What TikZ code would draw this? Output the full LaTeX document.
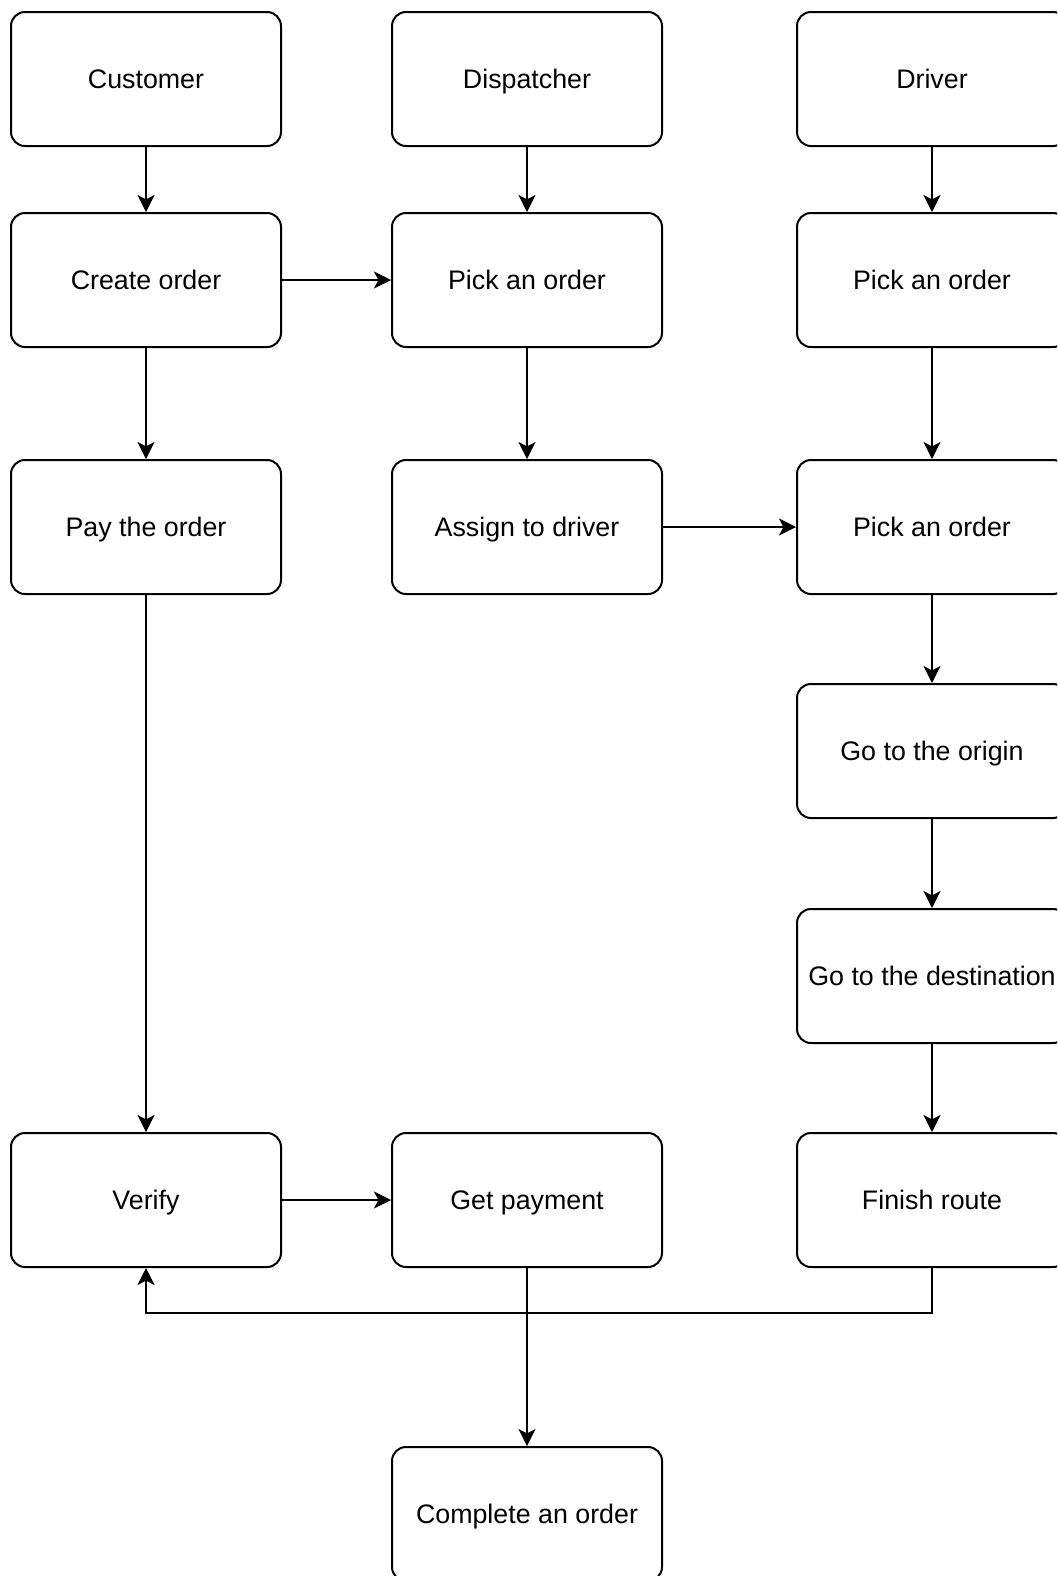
\documentclass[tikz,border=0pt]{standalone}
\usepackage{fontspec}
\setmainfont{Liberation Sans}
\usetikzlibrary{arrows.meta}

\begin{document}
\begin{tikzpicture}[x=0.5pt, y=-0.5pt,
        actbox/.style={draw, line width=1pt, rounded corners=7pt,
            minimum width=135pt, minimum height=67pt, inner sep=1pt,
            text height=9.6pt, text depth=0pt,
            font=\fontsize{13.4pt}{16pt}\selectfont},
        flow/.style={line width=1pt, -{Stealth[length=8.5pt, width=8.5pt, inset=2.2pt]}}]
        \path[use as bounding box, clip] (0,0) rectangle (1057,1576);

        % hlavicky
        \node[actbox] (customer) at (146,79) {Customer};
        \node[actbox] (dispatcher) at (527,79) {Dispatcher};
        \node[actbox] (driver) at (932,79) {Driver};

        % kroky
        \node[actbox] (create) at (146,280) {Create order};
        \node[actbox] (pickD) at (527,280) {Pick an order};
        \node[actbox] (pickA) at (932,280) {Pick an order};
        \node[actbox] (pay) at (146,527) {Pay the order};
        \node[actbox] (assign) at (527,527) {Assign to driver};
        \node[actbox] (pickB) at (932,527) {Pick an order};
        \node[actbox] (origin) at (932,751) {Go to the origin};
        \node[actbox] (dest) at (932,976) {Go to the destination};
        \node[actbox] (verify) at (146,1200) {Verify};
        \node[actbox] (payment) at (527,1200) {Get payment};
        \node[actbox] (finish) at (932,1200) {Finish route};
        \node[actbox] (complete) at (527,1514) {Complete an order};

        % sipky
        \draw[flow] (customer) -- (create);
        \draw[flow] (dispatcher) -- (pickD);
        \draw[flow] (driver) -- (pickA);
        \draw[flow] (create) -- (pickD);
        \draw[flow] (create) -- (pay);
        \draw[flow] (pickD) -- (assign);
        \draw[flow] (pickA) -- (pickB);
        \draw[flow] (assign) -- (pickB);
        \draw[flow] (pickB) -- (origin);
        \draw[flow] (origin) -- (dest);
        \draw[flow] (dest) -- (finish);
        \draw[flow] (pay) -- (verify);
        \draw[flow] (verify) -- (payment);
        \draw[flow] (payment) -- (complete);

        % zpetna vazba
        \draw[flow] (finish.south) -- ++(0,45) -| (verify.south);
    \end{tikzpicture}
\end{document}
